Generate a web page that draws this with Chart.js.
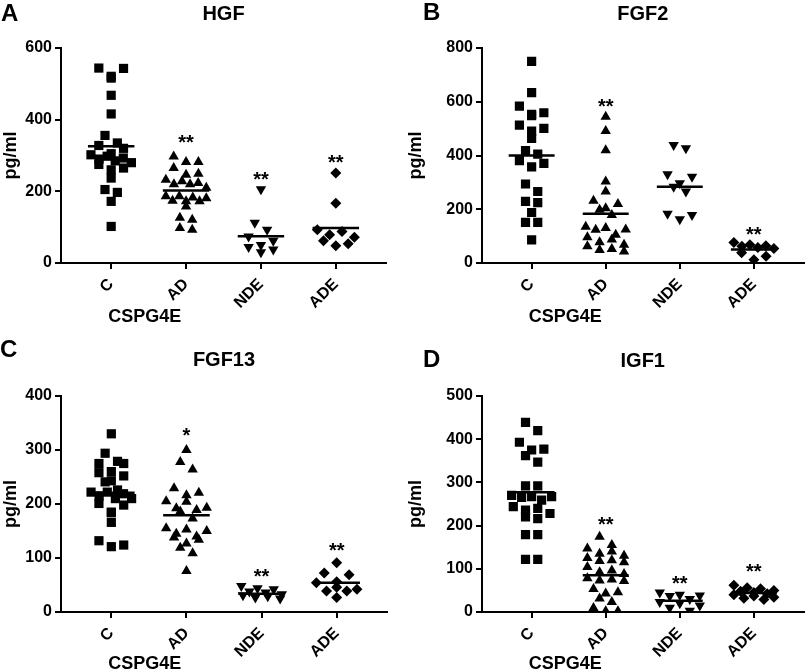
<!DOCTYPE html>
<html>
<head>
<meta charset="utf-8">
<script src="https://cdn.jsdelivr.net/npm/chart.js@4.4.1/dist/chart.umd.min.js"></script>
<style>
  html, body { margin: 0; padding: 0; background: #fff; }
  #wrap { position: relative; width: 810px; height: 670px; }
  .panel { position: absolute; width: 405px; height: 335px; }
</style>
</head>
<body>
<div id="wrap">
  <div class="panel" style="left:0;top:0"><canvas id="pA" width="405" height="335"></canvas></div>
  <div class="panel" style="left:405px;top:0"><canvas id="pB" width="405" height="335"></canvas></div>
  <div class="panel" style="left:0;top:335px"><canvas id="pC" width="405" height="335"></canvas></div>
  <div class="panel" style="left:405px;top:335px"><canvas id="pD" width="405" height="335"></canvas></div>
</div>
<script>
const groups = ["C", "AD", "NDE", "ADE"];

// HGF (pg/ml)
const hgfC = [544, 543, 521, 516, 468, 416, 356, 335, 328, 320, 305, 302, 298, 293, 290, 285, 280, 275, 265, 260, 237, 205, 197, 172, 102];
const hgfAD = [297, 282, 282, 265, 249, 246, 232, 228, 223, 220, 220, 210, 186, 186, 183, 181, 174, 172, 172, 158, 126, 121, 98, 93];
const hgfNDE = [206, 112, 93, 74, 62, 50, 45, 38, 30];
const hgfADE = [251, 167, 93, 88, 79, 72, 62, 54, 48];
const hgfMean = [326, 202, 75, 98];
const hgfStars = ["", "**", "**", "**"];
const hgfStarAt = [0, 349, 246, 293];
const hgfTicks = [0, 200, 400, 600];

// FGF2
const fgf2C = [750, 634, 584, 559, 553, 548, 513, 501, 491, 464, 418, 405, 381, 371, 358, 294, 266, 229, 225, 188, 151, 151, 86];
const fgf2AD = [544, 491, 420, 303, 266, 232, 220, 204, 198, 179, 135, 130, 125, 124, 105, 96, 87, 77, 68, 62, 52, 48, 43];
const fgf2NDE = [439, 427, 330, 321, 297, 284, 266, 183, 179, 163];
const fgf2ADE = [76, 68, 64, 62, 58, 54, 38, 25, 12];
const fgf2Mean = [400, 183, 284, 50];
const fgf2Stars = ["", "**", "", "**"];
const fgf2StarAt = [0, 600, 0, 124];
const fgf2Ticks = [0, 200, 400, 600, 800];

// FGF13
const fgf13C = [330, 294, 279, 275, 275, 260, 258, 252, 243, 241, 226, 222, 222, 219, 215, 210, 210, 201, 198, 185, 184, 166, 132, 124, 121];
const fgf13AD = [300, 278, 264, 229, 221, 216, 205, 204, 193, 192, 189, 186, 173, 155, 153, 150, 145, 140, 138, 134, 127, 119, 109, 76];
const fgf13NDE = [48, 44, 42, 38, 36, 33, 31, 29, 27, 25];
const fgf13ADE = [91, 72, 69, 56, 54, 46, 42, 39, 39, 27];
const fgf13Mean = [221, 179, 34, 54];
const fgf13Stars = ["", "*", "**", "**"];
const fgf13StarAt = [0, 336, 75, 122];
const fgf13Ticks = [0, 100, 200, 300, 400];

// IGF1
const igf1C = [439, 420, 393, 377, 375, 362, 347, 292, 292, 270, 267, 267, 265, 259, 244, 240, 236, 228, 220, 216, 179, 179, 122, 122];
const igf1AD = [174, 155, 147, 140, 135, 130, 125, 120, 118, 115, 104, 96, 92, 88, 78, 75, 73, 72, 53, 46, 43, 31, 23, 9, 2, 2];
const igf1NDE = [45, 40, 38, 37, 30, 23, 20, 15, 10, 3];
const igf1ADE = [62, 56, 54, 50, 48, 45, 42, 40, 37, 34, 32, 29];
const igf1Mean = [277, 85, 26, 44];
const igf1Stars = ["", "**", "**", "**"];
const igf1StarAt = [0, 214, 77, 104];
const igf1Ticks = [0, 100, 200, 300, 400, 500];

const FONT = "'Liberation Sans', Arial, sans-serif";
const shapes = ["rect", "triangle", "triangle", "rectRot"];
const radii = [6.5, 6, 6, 5.5];
const turns = [0, 0, 180, 0];

// spread close values sideways, like a column scatter plot
function swarm(values, pos, yMax) {
  const binH = yMax * 9 / 215;
  const rows = [];
  [...values].sort((a, b) => b - a).forEach(v => {
    const last = rows[rows.length - 1];
    if (last && last[0] - v < binH) last.push(v); else rows.push([v]);
  });
  const out = [];
  rows.forEach(row => {
    const n = row.length;
    const step = n > 1 ? Math.min(0.165, 0.54 / (n - 1)) : 0;
    const order = row.map((v, i) => i).sort((a, b) => (a % 2) - (b % 2) || a - b);
    row.forEach((v, i) => out.push({ x: pos + (order[i] - (n - 1) / 2) * step, y: v }));
  });
  return out;
}

const textPlugin = {
  id: "panelText",
  afterDraw(chart) {
    const cfg = chart.options.plugins.panelText;
    const { ctx, chartArea, scales } = chart;
    ctx.save();
    ctx.fillStyle = "#000";
    ctx.textBaseline = "alphabetic";
    ctx.font = "bold 24px " + FONT;
    ctx.textAlign = "left";
    ctx.fillText(cfg.letter, cfg.letterX, cfg.letterY);
    ctx.font = "bold 20px " + FONT;
    ctx.textAlign = "center";
    ctx.fillText(cfg.title, (chartArea.left + chartArea.right) / 2, cfg.titleY);
    ctx.font = "bold 20px " + FONT;
    cfg.stars.forEach((s, i) => {
      if (!s) return;
      ctx.fillText(s, scales.x.getPixelForValue(i + 1), scales.y.getPixelForValue(cfg.starAt[i]) + 11);
    });
    ctx.font = "bold 18px " + FONT;
    ctx.textAlign = "left";
    ctx.fillText("CSPG4E", scales.x.getPixelForValue(1) - 3, cfg.axisY);
    ctx.restore();
  }
};

function panel(id, p) {
  const yMax = p.ticks[p.ticks.length - 1];
  const sets = groups.map((g, i) => ({
    type: "scatter",
    label: g,
    data: swarm(p.values[i], i + 1, yMax),
    pointStyle: shapes[i],
    pointRadius: radii[i],
    pointRotation: turns[i],
    backgroundColor: "#000",
    borderColor: "#000",
    borderWidth: 0,
    order: 1
  }));
  const meanLine = [];
  p.mean.forEach((m, i) => {
    meanLine.push({ x: i + 1 - 0.31, y: m }, { x: i + 1 + 0.31, y: m }, { x: i + 1.5, y: null });
  });
  sets.push({ type: "line", label: "mean", data: meanLine, borderColor: "#000", borderWidth: 2.5, pointRadius: 0, spanGaps: false, fill: false, order: 0 });

  const axisGrid = { drawOnChartArea: false, drawTicks: true, tickLength: 6, color: "#000", lineWidth: 2 };
  const axisBorder = { display: true, color: "#000", width: 2 };
  const tickFont = { family: FONT, size: 16, weight: "bold" };

  new Chart(document.getElementById(id), {
    type: "scatter",
    data: { datasets: sets },
    plugins: [textPlugin],
    options: {
      responsive: false,
      animation: false,
      layout: { padding: { left: 0, top: p.top, right: 405 - p.right, bottom: 0 } },
      plugins: {
        legend: { display: false },
        tooltip: { enabled: false },
        panelText: p.text
      },
      scales: {
        x: {
          type: "linear",
          min: 0.33,
          max: 4.67,
          afterBuildTicks: s => { s.ticks = groups.map((g, i) => ({ value: i + 1 })); },
          afterFit: s => { s.height = 335 - p.bottom; },
          ticks: { callback: v => groups[v - 1], minRotation: 45, maxRotation: 45, color: "#000", font: tickFont, padding: 6 },
          grid: axisGrid,
          border: axisBorder
        },
        y: {
          min: 0,
          max: yMax,
          afterBuildTicks: s => { s.ticks = p.ticks.map(v => ({ value: v })); },
          afterFit: s => { s.width = p.left; },
          ticks: { color: "#000", font: tickFont, padding: 3 },
          title: { display: true, text: "pg/ml", color: "#000", font: { family: FONT, size: 18, weight: "bold" }, padding: 0 },
          grid: axisGrid,
          border: axisBorder
        }
      }
    }
  });
}

panel("pA", {
  values: [hgfC, hgfAD, hgfNDE, hgfADE], mean: hgfMean, ticks: hgfTicks,
  left: 61, right: 386, top: 48, bottom: 263,
  text: { letter: "A", letterX: 1, letterY: 21, title: "HGF", titleY: 20, stars: hgfStars, starAt: hgfStarAt, axisY: 322 }
});
panel("pB", {
  values: [fgf2C, fgf2AD, fgf2NDE, fgf2ADE], mean: fgf2Mean, ticks: fgf2Ticks,
  left: 77, right: 405, top: 48, bottom: 263,
  text: { letter: "B", letterX: 18, letterY: 20, title: "FGF2", titleY: 20, stars: fgf2Stars, starAt: fgf2StarAt, axisY: 322 }
});
panel("pC", {
  values: [fgf13C, fgf13AD, fgf13NDE, fgf13ADE], mean: fgf13Mean, ticks: fgf13Ticks,
  left: 61, right: 387, top: 61, bottom: 277,
  text: { letter: "C", letterX: 0, letterY: 22, title: "FGF13", titleY: 31, stars: fgf13Stars, starAt: fgf13StarAt, axisY: 334 }
});
panel("pD", {
  values: [igf1C, igf1AD, igf1NDE, igf1ADE], mean: igf1Mean, ticks: igf1Ticks,
  left: 77, right: 405, top: 61, bottom: 277,
  text: { letter: "D", letterX: 18, letterY: 32, title: "IGF1", titleY: 32, stars: igf1Stars, starAt: igf1StarAt, axisY: 334 }
});
</script>
</body>
</html>
